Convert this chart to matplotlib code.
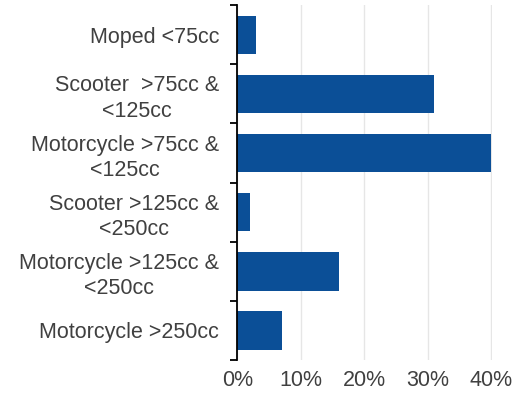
import matplotlib
matplotlib.use("Agg")
import matplotlib.pyplot as plt
from matplotlib.ticker import FixedLocator

categories = [
    "Moped <75cc",
    "Scooter  >75cc &\n<125cc",
    "Motorcycle >75cc &\n<125cc",
    "Scooter >125cc &\n<250cc",
    "Motorcycle >125cc &\n<250cc",
    "Motorcycle >250cc",
]
shares = [3, 31, 40, 2, 16, 7]
x_ticks = [0, 10, 20, 30, 40]
x_tick_labels = ["0%", "10%", "20%", "30%", "40%"]

plt.rcParams["font.family"] = ["Liberation Sans", "DejaVu Sans"]

fig = plt.figure(figsize=(5.16, 3.98), dpi=100)
ax = fig.add_axes([0.46, 0.0955, 0.493, 0.8915])

y = list(range(len(categories)))
ax.barh(y, shares, height=0.65, color="#0b4f97", zorder=3)

ax.set_ylim(len(categories) - 0.5, -0.5)
ax.set_xlim(0, 40.05)

ax.set_yticks(y)
ax.set_yticklabels(categories, fontsize=15.5, color="#404040",
                   multialignment="center", linespacing=1.27)
ax.tick_params(axis="y", which="major", length=0, pad=13)
ax.yaxis.set_minor_locator(FixedLocator([i - 0.5 for i in range(len(categories) + 1)]))
ax.tick_params(axis="y", which="minor", length=5, width=1.3, color="black",
               direction="out")

ax.set_xticks(x_ticks)
ax.set_xticklabels(x_tick_labels, fontsize=15.5, color="#404040")
ax.tick_params(axis="x", length=0, pad=7)
ax.grid(axis="x", color="#e6e6e6", linewidth=1, zorder=0)

for side in ["top", "right", "bottom"]:
    ax.spines[side].set_visible(False)
ax.spines["left"].set_color("black")
ax.spines["left"].set_linewidth(1.3)
ax.spines["left"].set_zorder(4)

fig.savefig("out.png", dpi=100)
